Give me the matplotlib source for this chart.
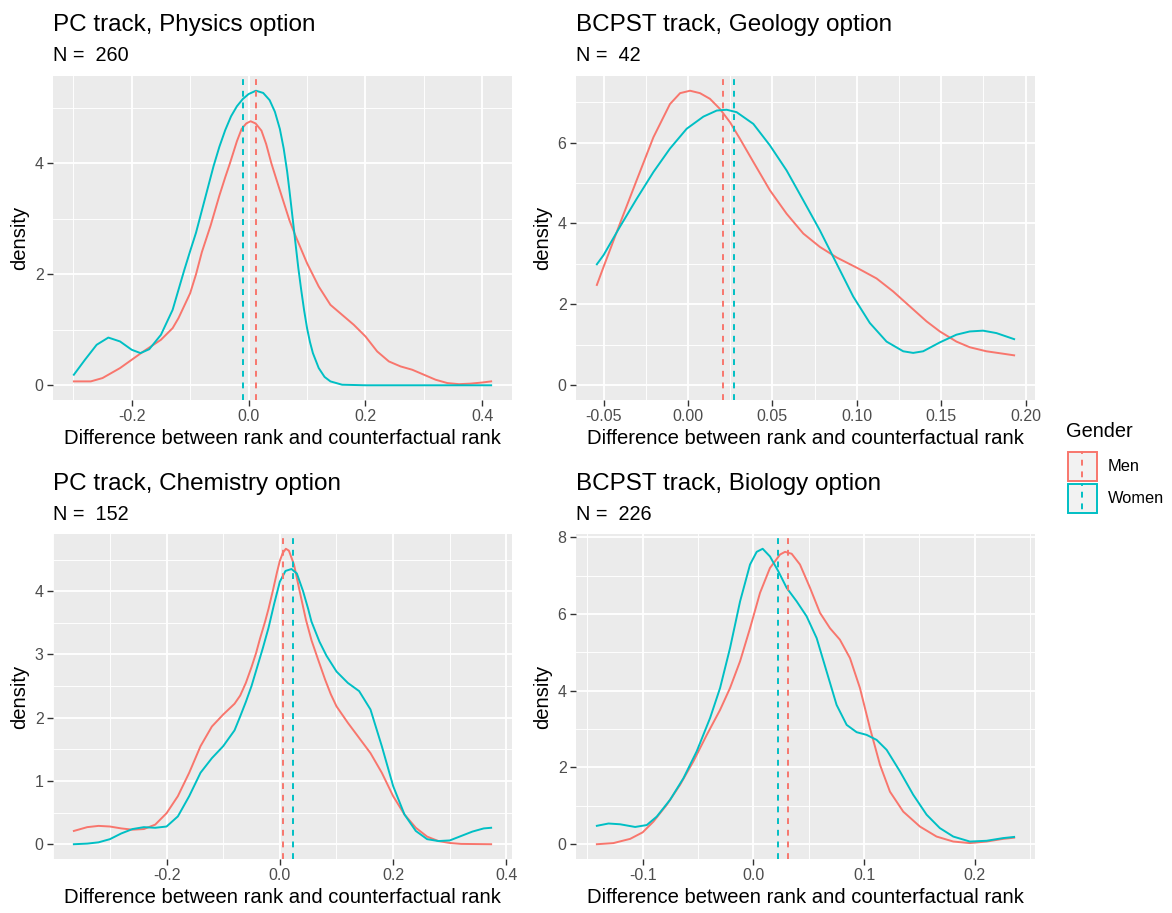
import matplotlib
matplotlib.use("Agg")
import matplotlib.pyplot as plt
from matplotlib.patches import Rectangle

plt.rcParams['font.family'] = ['Liberation Sans', 'DejaVu Sans']

# ---- data ----
# PC track, Physics option
phys_men_x = [-0.299, -0.27, -0.25, -0.22, -0.20, -0.18, -0.15, -0.13, -0.12, -0.10, -0.09, -0.08,
              -0.065, -0.05, -0.04, -0.032, -0.02, -0.012, -0.004, 0.0034, 0.012, 0.022, 0.03,
              0.039, 0.05, 0.06, 0.07, 0.08, 0.10, 0.12, 0.14, 0.16, 0.18, 0.20, 0.22, 0.24,
              0.26, 0.28, 0.30, 0.32, 0.34, 0.36, 0.38, 0.40, 0.415]
phys_men_y = [0.07, 0.07, 0.13, 0.31, 0.46, 0.61, 0.82, 1.03, 1.21, 1.66, 2.00, 2.40,
              2.88, 3.42, 3.75, 4.00, 4.40, 4.62, 4.72, 4.76, 4.72, 4.59, 4.35,
              4.00, 3.63, 3.30, 2.97, 2.70, 2.20, 1.78, 1.45, 1.27, 1.09, 0.88, 0.61, 0.43,
              0.34, 0.28, 0.19, 0.10, 0.04, 0.02, 0.03, 0.05, 0.07]
phys_women_x = [-0.299, -0.28, -0.26, -0.24, -0.22, -0.20, -0.185, -0.17, -0.15, -0.13, -0.12,
                -0.11, -0.10, -0.09, -0.08, -0.07, -0.06, -0.05, -0.04, -0.03, -0.02, -0.01,
                0.0, 0.0125, 0.025, 0.036, 0.045, 0.0535, 0.06, 0.066, 0.07, 0.076, 0.08,
                0.085, 0.09, 0.095, 0.10, 0.105, 0.11, 0.12, 0.13, 0.14, 0.16, 0.20, 0.30, 0.415]
phys_women_y = [0.19, 0.46, 0.73, 0.86, 0.79, 0.64, 0.58, 0.65, 0.91, 1.36, 1.72,
                2.08, 2.42, 2.75, 3.15, 3.55, 3.95, 4.30, 4.60, 4.85, 5.03, 5.16,
                5.25, 5.31, 5.27, 5.14, 4.93, 4.62, 4.27, 3.85, 3.50, 2.95, 2.58,
                2.12, 1.72, 1.35, 1.03, 0.78, 0.58, 0.31, 0.15, 0.07, 0.01, 0.0, 0.0, 0.0]
phys_means = [0.012, -0.0097]

# BCPST track, Geology option
geo_men_x = [-0.054, -0.05, -0.0403, -0.0304, -0.0205, -0.0107, -0.0047, 0.0012, 0.0071, 0.013,
             0.0189, 0.0249, 0.0308, 0.0387, 0.0485, 0.0584, 0.0683, 0.0781, 0.088, 0.0998,
             0.1117, 0.1215, 0.1314, 0.1413, 0.1492, 0.159, 0.1669, 0.1768, 0.1867, 0.1932]
geo_men_y = [2.48, 2.93, 4.00, 5.07, 6.13, 6.95, 7.22, 7.28, 7.22, 7.08,
             6.83, 6.50, 6.09, 5.52, 4.82, 4.24, 3.75, 3.42, 3.16, 2.91,
             2.64, 2.32, 1.95, 1.58, 1.33, 1.08, 0.94, 0.84, 0.78, 0.74]
geo_women_x = [-0.054, -0.05, -0.0403, -0.0304, -0.0205, -0.0107, -0.0008, 0.0091, 0.017, 0.0229,
               0.0288, 0.0387, 0.0485, 0.0584, 0.0683, 0.0781, 0.088, 0.0979, 0.1077, 0.1176,
               0.1275, 0.1334, 0.1393, 0.1492, 0.159, 0.1669, 0.1748, 0.1827, 0.1932]
geo_women_y = [2.99, 3.22, 3.92, 4.61, 5.27, 5.85, 6.34, 6.64, 6.79, 6.81,
               6.75, 6.46, 5.93, 5.31, 4.57, 3.83, 3.01, 2.19, 1.54, 1.08,
               0.84, 0.80, 0.84, 1.06, 1.25, 1.33, 1.35, 1.29, 1.14]
geo_means = [0.0207, 0.027]

# PC track, Chemistry option
chem_men_x = [-0.3636, -0.34, -0.32, -0.30, -0.28, -0.26, -0.24, -0.22, -0.20, -0.18, -0.16,
              -0.14, -0.12, -0.10, -0.08, -0.07, -0.06, -0.05, -0.042, -0.035, -0.026, -0.02,
              -0.0125, -0.005, 0.0, 0.005, 0.0106, 0.016, 0.025, 0.035, 0.046, 0.056, 0.0675,
              0.08, 0.09, 0.10, 0.12, 0.14, 0.16, 0.18, 0.20, 0.22, 0.24, 0.26, 0.28, 0.30,
              0.32, 0.373]
chem_men_y = [0.21, 0.27, 0.29, 0.28, 0.25, 0.23, 0.24, 0.31, 0.49, 0.76, 1.13,
              1.55, 1.86, 2.05, 2.22, 2.35, 2.55, 2.80, 3.02, 3.25, 3.52, 3.72,
              4.00, 4.30, 4.48, 4.60, 4.67, 4.64, 4.42, 4.00, 3.55, 3.22, 2.92,
              2.60, 2.37, 2.18, 1.92, 1.68, 1.44, 1.13, 0.76, 0.47, 0.26, 0.12, 0.05, 0.02,
              0.005, 0.0]
chem_women_x = [-0.3636, -0.34, -0.32, -0.30, -0.28, -0.26, -0.24, -0.22, -0.20, -0.18, -0.16,
                -0.14, -0.12, -0.10, -0.08, -0.07, -0.06, -0.05, -0.04, -0.03, -0.02, -0.01,
                0.0, 0.01, 0.0206, 0.03, 0.041, 0.05, 0.0558, 0.07, 0.0823, 0.10, 0.12, 0.14,
                0.16, 0.18, 0.20, 0.22, 0.24, 0.26, 0.28, 0.30, 0.32, 0.34, 0.36, 0.373]
chem_women_y = [0.0, 0.01, 0.03, 0.08, 0.17, 0.24, 0.27, 0.26, 0.28, 0.44, 0.76,
                1.13, 1.36, 1.55, 1.80, 2.02, 2.25, 2.50, 2.80, 3.10, 3.42, 3.80,
                4.15, 4.32, 4.35, 4.28, 4.00, 3.72, 3.52, 3.20, 2.98, 2.73, 2.55, 2.42,
                2.13, 1.55, 0.92, 0.47, 0.21, 0.08, 0.05, 0.06, 0.13, 0.20, 0.25, 0.26]
chem_means = [0.0053, 0.0235]

# BCPST track, Biology option
bio_men_x = [-0.1414, -0.1264, -0.1113, -0.10, -0.0903, -0.0782, -0.0662, -0.0542, -0.0421,
             -0.0301, -0.0211, -0.012, -0.003, 0.006, 0.015, 0.0241, 0.0286, 0.0346, 0.0421,
             0.0512, 0.0602, 0.0692, 0.0782, 0.0873, 0.0963, 0.1053, 0.1144, 0.1234, 0.1354,
             0.1505, 0.1655, 0.1806, 0.1956, 0.2107, 0.2257, 0.2356]
bio_men_y = [0.0, 0.03, 0.14, 0.31, 0.59, 1.03, 1.55, 2.16, 2.85,
             3.50, 4.07, 4.77, 5.63, 6.55, 7.20, 7.55, 7.62, 7.57, 7.29,
             6.68, 6.03, 5.63, 5.33, 4.85, 4.07, 3.03, 2.07, 1.37, 0.85,
             0.46, 0.20, 0.07, 0.03, 0.07, 0.14, 0.17]
bio_women_x = [-0.1414, -0.1309, -0.1204, -0.1068, -0.0963, -0.0873, -0.0752, -0.0632, -0.0512,
               -0.0391, -0.0301, -0.0211, -0.012, -0.003, 0.003, 0.0084, 0.015, 0.0226, 0.0301,
               0.0391, 0.0481, 0.0572, 0.0662, 0.0752, 0.0843, 0.0933, 0.1023, 0.1113, 0.1204,
               0.1324, 0.1444, 0.1565, 0.1685, 0.1806, 0.1956, 0.2107, 0.2257, 0.2356]
bio_women_y = [0.48, 0.54, 0.52, 0.45, 0.50, 0.72, 1.16, 1.72, 2.42,
               3.29, 4.07, 5.11, 6.33, 7.29, 7.62, 7.70, 7.50, 7.11, 6.68,
               6.33, 5.94, 5.37, 4.50, 3.63, 3.11, 2.92, 2.85, 2.72, 2.46,
               1.90, 1.29, 0.77, 0.42, 0.20, 0.07, 0.09, 0.16, 0.19]
bio_means = [0.0313, 0.022]

titles = ["PC track, Physics option", "BCPST track, Geology option",
          "PC track, Chemistry option", "BCPST track, Biology option"]
counts = [260, 42, 152, 226]
genders = ["Men", "Women"]
phys_xticks = [-0.2, 0.0, 0.2, 0.4]
phys_xlabels = ["-0.2", "0.0", "0.2", "0.4"]
geo_xticks = [-0.05, 0.0, 0.05, 0.10, 0.15, 0.20]
geo_xlabels = ["-0.05", "0.00", "0.05", "0.10", "0.15", "0.20"]
bio_xticks = [-0.1, 0.0, 0.1, 0.2]
bio_xlabels = ["-0.1", "0.0", "0.1", "0.2"]

COLORS = ["#F8766D", "#00BFC4"]
W, H = 1172, 913


def box(l, t, r, b):
  return [l / W, 1 - b / H, (r - l) / W, (b - t) / H]


def draw_panel(ax, men, women, means, xticks, xlabels, ystep):
  ax.set_facecolor("#EBEBEB")
  xs = men[0] + women[0]
  ys = men[1] + women[1] + [0]
  xr = max(xs) - min(xs)
  yr = max(ys) - min(ys)
  ax.set_xlim(min(xs) - 0.05 * xr, max(xs) + 0.05 * xr)
  ax.set_ylim(min(ys) - 0.05 * yr, max(ys) + 0.05 * yr)

  # grid: majors and minors like ggplot
  xstep = xticks[1] - xticks[0]
  lo, hi = ax.get_xlim()
  for k in range(-20, 40):
    v = xticks[0] + k * xstep / 2
    if lo < v < hi:
      ax.axvline(v, color="white", lw=1.3 if k % 2 == 0 else 0.65, zorder=0.5)
  lo, hi = ax.get_ylim()
  yticks = []
  k = 0
  while k * ystep / 2 < hi:
    v = k * ystep / 2
    ax.axhline(v, color="white", lw=1.3 if k % 2 == 0 else 0.65, zorder=0.5)
    if k % 2 == 0:
      yticks.append(v)
    k += 1

  for (x, y), c in zip([men, women], COLORS):
    ax.plot(x, y, color=c, lw=1.4, solid_joinstyle="round", zorder=2)
  for m, c in zip(means, COLORS):
    ax.axvline(m, color=c, lw=1.4, linestyle=(0, (3, 3)), zorder=3)

  ax.set_xticks(xticks)
  ax.set_xticklabels(xlabels)
  ax.set_yticks(yticks)
  ax.set_yticklabels([f"{int(v)}" for v in yticks])
  ax.tick_params(length=4.3, width=1.0, color="#333333", labelcolor="#4D4D4D",
                 labelsize=11.5, pad=2.5)
  for s in ax.spines.values():
    s.set_visible(False)
  ax.set_xlabel("Difference between rank and counterfactual rank", fontsize=14.6,
                labelpad=3)
  ax.set_ylabel("density", fontsize=14.6, labelpad=4)


fig = plt.figure(figsize=(W / 100, H / 100), dpi=100)

panels = [
  (box(53, 76, 512, 400), (phys_men_x, phys_men_y), (phys_women_x, phys_women_y),
   phys_means, phys_xticks, phys_xlabels, 2),
  (box(576, 76, 1035, 400), (geo_men_x, geo_men_y), (geo_women_x, geo_women_y),
   geo_means, geo_xticks, geo_xlabels, 2),
  (box(53, 534, 512, 859), (chem_men_x, chem_men_y), (chem_women_x, chem_women_y),
   chem_means, phys_xticks, phys_xlabels, 1),
  (box(576, 534, 1035, 859), (bio_men_x, bio_men_y), (bio_women_x, bio_women_y),
   bio_means, bio_xticks, bio_xlabels, 2),
]

title_pos = [(53, 31), (576, 31), (53, 490), (576, 490)]
for i, (rect, men, women, means, xt, xl, ys) in enumerate(panels):
  ax = fig.add_axes(rect)
  draw_panel(ax, men, women, means, xt, xl, ys)
  tx, ty = title_pos[i]
  fig.text(tx / W, 1 - ty / H, titles[i], fontsize=17.5, ha="left", va="baseline")
  fig.text(tx / W, 1 - (ty + 30) / H, f"N =  {counts[i]}", fontsize=14.3,
           ha="left", va="baseline")

# legend
fig.text(1066 / W, 1 - 437 / H, "Gender", fontsize=14.4, ha="left", va="baseline")
lax = fig.add_axes(box(1060, 445, 1172, 520))
lax.set_xlim(1060, 1172)
lax.set_ylim(520, 445)
lax.axis("off")
key_tops = [451, 483]
for g, c, t in zip(genders, COLORS, key_tops):
  lax.add_patch(Rectangle((1067.5, t + 0.5), 29, 29.5, facecolor="#F2F2F2",
                          edgecolor=c, lw=1.4))
  lax.plot([1082, 1082], [t, t + 31], color=c, lw=1.4, linestyle=(1.5, (3, 3)))
  lax.text(1108, t + 15, g, fontsize=11.8, ha="left", va="center")

fig.savefig("out.png", dpi=100)
